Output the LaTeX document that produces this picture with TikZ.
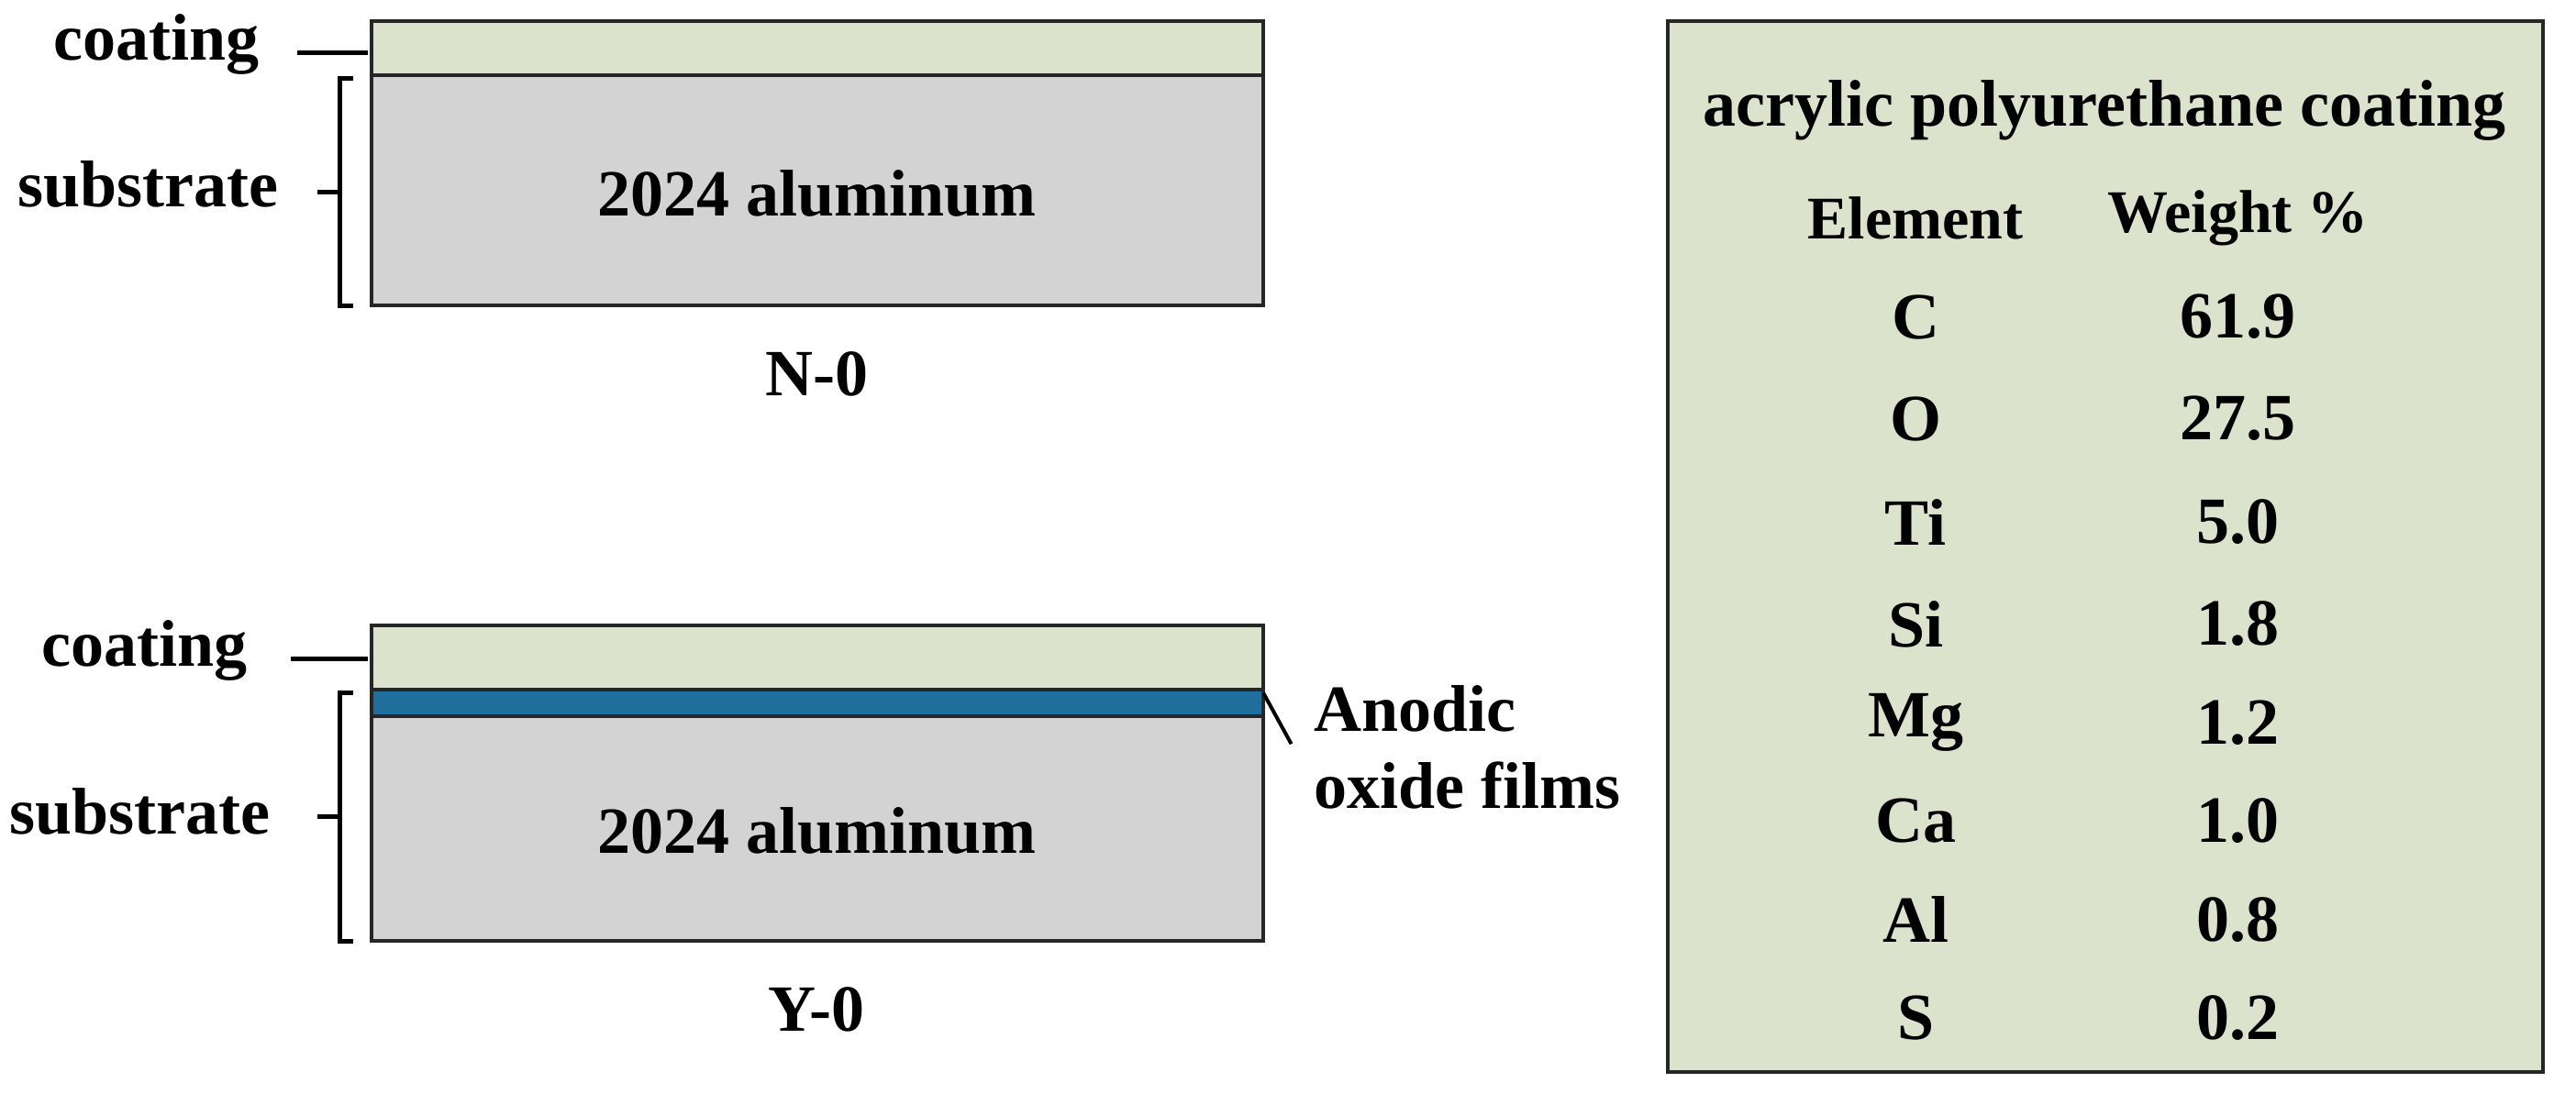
\documentclass[tikz,border=0pt]{standalone}
\usepackage{fontspec}
\setmainfont{Liberation Serif}
\begin{document}
\begin{tikzpicture}[x=1.791pt,y=-1.791pt,
  t/.style={font=\fontsize{72}{80}\selectfont\bfseries, inner sep=0pt},
  th/.style={font=\fontsize{66}{74}\selectfont\bfseries, inner sep=0pt},
  lay/.style={draw=black!85, line width=4pt},
  ln/.style={line width=5pt}]
\definecolor{coat}{HTML}{DCE3CC}
\definecolor{sub}{HTML}{D3D3D3}
\definecolor{ox}{HTML}{1F6E9C}
\useasboundingbox (0,0) rectangle (1568,666);
% N-0
\path[lay,fill=coat] (226,13) rectangle (769,46);
\path[lay,fill=sub] (226,46) rectangle (769,186);
\node[t] (al1) at (497,118) {2024 aluminum};
\node[t] (n0) at (497,228) {N-0};
\node[t] (c1) at (95,27) {coating};
\coordinate (c1a) at (181,32); \coordinate (c1b) at (224,32);
\draw[ln] (c1a) -- (c1b);
\node[t] (s1) at (90,112) {substrate};
\draw[ln] (215,48) -- (207,48) -- (207,186) -- (215,186);
\coordinate (s1a) at (193,117); \coordinate (s1b) at (207,117);
\draw[ln] (s1a) -- (s1b);
% Y-0
\path[lay,fill=coat] (226,381) rectangle (769,420);
\path[lay,fill=ox] (226,420) rectangle (769,436);
\path[lay,fill=sub] (226,436) rectangle (769,573);
\node[t] (al2) at (497,506) {2024 aluminum};
\node[t] (y0) at (497,615) {Y-0};
\node[t] (c2) at (88,396) {coating};
\coordinate (c2a) at (177,401); \coordinate (c2b) at (224,401);
\draw[ln] (c2a) -- (c2b);
\node[t] (s2) at (85,494) {substrate};
\draw[ln] (215,422) -- (207,422) -- (207,573) -- (215,573);
\coordinate (s2a) at (193,497); \coordinate (s2b) at (207,497);
\draw[ln] (s2a) -- (s2b);
\node[t,align=left,anchor=west,font=\fontsize{72}{84}\selectfont\bfseries] (an) at (800,455) {Anodic\\oxide films};
\coordinate (o1) at (769,422); \coordinate (o2) at (786,453);
\draw[line width=4pt] (o1) -- (o2);
% table
\path[lay,fill=coat] (1015,13) rectangle (1548,653);
\node[t] (title) at (1281,67) {acrylic polyurethane coating};
\node[th] (h1) at (1166,133) {Element};
\node[th] (h2) at (1362,133) {Weight \%};
\foreach \e/\v/\y [count=\i] in {C/61.9/193,O/27.5/255,Ti/5.0/318,Si/1.8/380,Mg/1.2/440,Ca/1.0/500,Al/0.8/560,S/0.2/620}{
  \node[t] (e\i) at (1166,\y) {\e};
  \node[t] (v\i) at (1362,\y) {\v};
}
\end{tikzpicture}
\end{document}
